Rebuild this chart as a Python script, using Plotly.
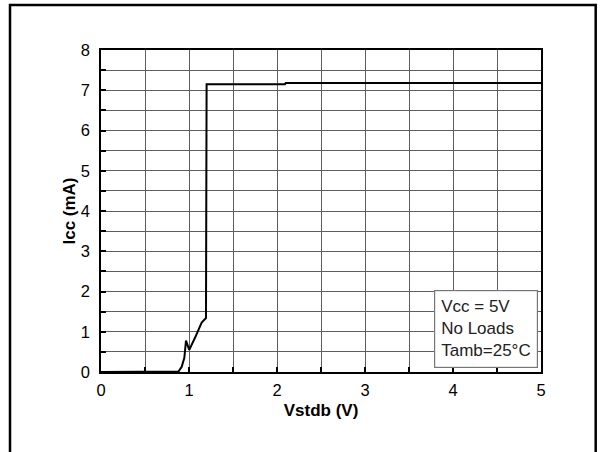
import plotly.graph_objects as go

# Icc vs Vstdb curve
vstdb = [0, 0.87, 0.88, 0.917, 0.947, 0.966, 0.981, 1.003, 1.068, 1.144, 1.193, 1.2, 2.09, 2.1, 5]
icc = [0, 0, 0.01, 0.13, 0.35, 0.78, 0.68, 0.55, 0.85, 1.23, 1.34, 7.15, 7.15, 7.18, 7.18]

x_ticks = [0, 1, 2, 3, 4, 5]
y_ticks = [0, 1, 2, 3, 4, 5, 6, 7, 8]
note_lines = ["Vcc = 5V", "No Loads", "Tamb=25°C"]

FONT = "Liberation Sans, Arial, sans-serif"
GRID = "#5e5e5e"

fig = go.Figure(go.Scatter(
    x=vstdb, y=icc, mode="lines",
    line=dict(color="black", width=2),
    showlegend=False, hoverinfo="skip",
))

axis_common = dict(
    showline=True, linecolor="black", linewidth=1.5, mirror=True,
    showgrid=True, gridcolor=GRID, gridwidth=1.4,
    ticks="inside", ticklen=5, tickcolor="black", tickwidth=1.5,
    minor=dict(dtick=0.5, showgrid=True, gridcolor=GRID, gridwidth=1.4,
               ticks="inside", ticklen=5, tickcolor="black"),
    zeroline=False,
    tickfont=dict(family=FONT, size=16.5, color="black"),
)

fig.update_xaxes(
    range=[0, 5], tickvals=x_ticks, ticktext=[str(v) for v in x_ticks],
    ticklabelstandoff=2,
    title=dict(text="<b>Vstdb (V)</b>", font=dict(family=FONT, size=17, color="black"), standoff=7),
    **axis_common,
)
fig.update_yaxes(
    range=[0, 8], tickvals=y_ticks, ticktext=[str(v) for v in y_ticks],
    ticklabelstandoff=6,
    title=dict(text="<b>Icc (mA)</b>", font=dict(family=FONT, size=17, color="black"), standoff=1),
    **axis_common,
)

fig.add_annotation(
    x=4.97, y=0.11, xref="x", yref="y", xanchor="right", yanchor="bottom",
    text="<br>".join(note_lines), align="left", showarrow=False,
    font=dict(family=FONT, size=17, color="#222"),
    bgcolor="white", bordercolor="#777", borderwidth=1.2, borderpad=6,
)

# outer frame around the whole figure
fig.add_shape(
    type="rect", xref="paper", yref="paper",
    x0=(10 - 101) / 440, x1=(595.7 - 101) / 440,
    y0=-0.5, y1=(372 - 5) / 322,
    line=dict(color="black", width=2.5), fillcolor="rgba(0,0,0,0)", layer="above",
)

fig.update_layout(
    width=600, height=452,
    margin=dict(l=101, r=59, t=50, b=80),
    paper_bgcolor="white", plot_bgcolor="white",
    font=dict(family=FONT, color="black"),
)

fig.write_html(
    "out.html",
    config={"displayModeBar": False},
    post_script="document.body.style.margin='0';",
)
